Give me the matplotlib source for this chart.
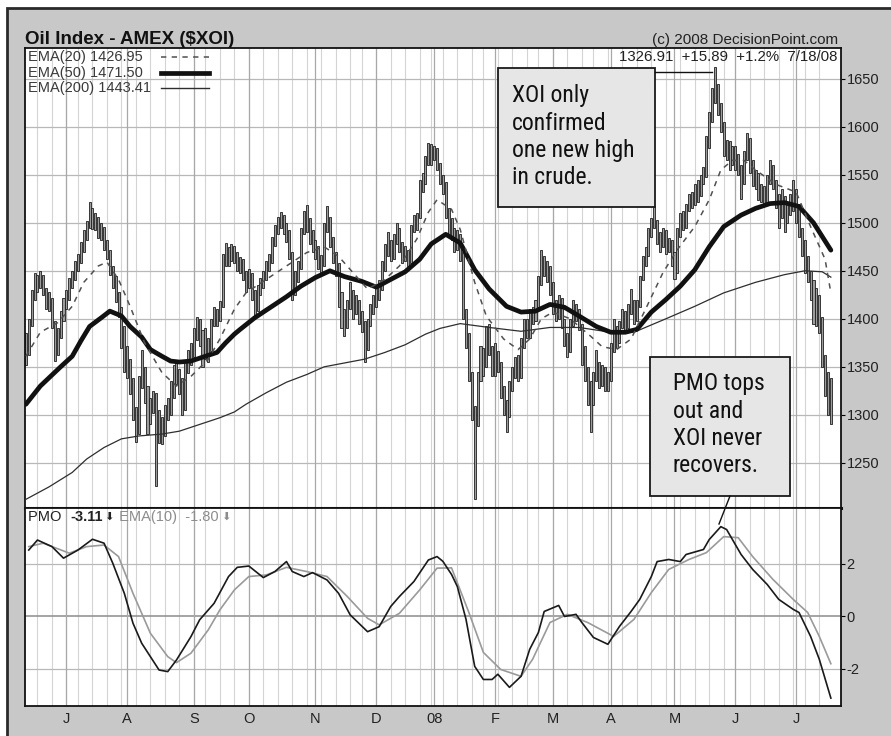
import numpy as np
import pandas as pd
import matplotlib
matplotlib.use("Agg")
import matplotlib.pyplot as plt
from matplotlib import font_manager
from matplotlib.patches import Rectangle
from matplotlib.lines import Line2D

W, H = 891, 736

holidays = ["2007-07-04", "2007-09-03", "2007-11-22", "2007-12-25", "2008-01-01",
            "2008-01-21", "2008-02-18", "2008-03-21", "2008-05-26", "2008-07-04"]
dates = pd.bdate_range("2007-06-12", "2008-07-18", freq="C", holidays=holidays)

# daily bars
closes = [
    1368, 1395, 1425, 1440, 1436, 1445, 1430, 1415, 1420, 1395, 1365, 1385, 1402, 1418,
    1425, 1438, 1445, 1455, 1462, 1475, 1488, 1498, 1512, 1500, 1505, 1490, 1495, 1480, 1470, 1452, 1440, 1425, 1410, 1378, 1365,
    1345, 1330, 1300, 1285, 1330, 1345, 1320, 1295, 1310, 1320, 1300, 1285, 1280, 1300, 1305, 1325, 1340, 1345, 1335, 1305, 1350, 1358, 1365,
    1385, 1395, 1380, 1362, 1375, 1368, 1395, 1405, 1400, 1412, 1460, 1470, 1465, 1472, 1468, 1455, 1460, 1445, 1440,
    1445, 1425, 1412, 1430, 1438, 1445, 1455, 1462, 1480, 1492, 1500, 1505, 1495, 1490, 1470, 1432, 1440, 1455, 1490, 1505, 1500, 1485, 1478,
    1470, 1462, 1458, 1495, 1505, 1480, 1462, 1455, 1420, 1400, 1392, 1415, 1425, 1410, 1418, 1402, 1395, 1372, 1395, 1410, 1420,
    1425, 1435, 1455, 1470, 1478, 1465, 1482, 1490, 1475, 1465, 1470, 1460, 1495, 1500, 1505, 1540, 1545, 1565, 1575, 1570,
    1575, 1560, 1545, 1540, 1510, 1500, 1490, 1478, 1485, 1470, 1405, 1380, 1340, 1310, 1290, 1340, 1365, 1355, 1380, 1370, 1345,
    1362, 1350, 1325, 1310, 1300, 1330, 1345, 1355, 1340, 1375, 1395, 1385, 1405, 1400, 1415, 1440, 1460, 1450, 1455, 1430,
    1415, 1405, 1420, 1395, 1380, 1370, 1395, 1410, 1405, 1395, 1360, 1345, 1330, 1315, 1340, 1350, 1335, 1345, 1330, 1335,
    1370, 1385, 1378, 1395, 1405, 1392, 1410, 1418, 1400, 1415, 1440, 1460, 1470, 1490, 1500, 1505, 1485, 1478, 1490, 1475, 1480, 1465,
    1450, 1490, 1505, 1500, 1515, 1525, 1520, 1535, 1530, 1545, 1550, 1580, 1610, 1630, 1640, 1620, 1600, 1575, 1580, 1565, 1570,
    1565, 1555, 1545, 1570, 1580, 1560, 1545, 1550, 1530, 1535, 1525, 1545, 1555, 1540, 1520, 1510, 1525, 1505, 1515, 1520, 1530,
    1515, 1490, 1475, 1460, 1445, 1430, 1415, 1420, 1395, 1360, 1330, 1311, 1327,
]
highs = [
    1385, 1400, 1430, 1448, 1446, 1450, 1446, 1432, 1428, 1422, 1398, 1390, 1408, 1422,
    1430, 1442, 1450, 1460, 1468, 1480, 1492, 1502, 1522, 1515, 1510, 1506, 1500, 1496, 1482, 1472, 1455, 1445, 1428, 1412, 1392,
    1372, 1358, 1338, 1308, 1340, 1368, 1350, 1330, 1318, 1325, 1323, 1305, 1298, 1310, 1318, 1335, 1352, 1354, 1348, 1338, 1356, 1368, 1375,
    1390, 1402, 1400, 1388, 1390, 1380, 1400, 1412, 1410, 1419, 1468, 1479, 1475, 1478, 1476, 1470, 1464, 1462, 1450,
    1452, 1448, 1430, 1435, 1442, 1450, 1460, 1468, 1485, 1498, 1506, 1511, 1508, 1500, 1492, 1470, 1450, 1460, 1495, 1512, 1519, 1505, 1492,
    1482, 1476, 1466, 1500, 1517, 1506, 1485, 1470, 1458, 1428, 1410, 1420, 1438, 1430, 1425, 1420, 1408, 1398, 1400, 1415, 1425,
    1432, 1440, 1460, 1478, 1490, 1482, 1488, 1500, 1495, 1480, 1476, 1472, 1498, 1508, 1510, 1545, 1552, 1570, 1583, 1582,
    1580, 1578, 1562, 1550, 1542, 1515, 1505, 1495, 1492, 1488, 1470, 1410, 1385, 1345, 1309, 1345, 1372, 1370, 1392, 1395, 1372,
    1375, 1366, 1355, 1330, 1315, 1335, 1350, 1360, 1362, 1380, 1400, 1400, 1410, 1412, 1420, 1445, 1472, 1465, 1460, 1455,
    1438, 1420, 1425, 1422, 1400, 1385, 1400, 1420, 1415, 1410, 1395, 1372, 1350, 1335, 1345, 1368, 1355, 1352, 1350, 1345,
    1375, 1400, 1392, 1398, 1410, 1408, 1415, 1431, 1420, 1420, 1445, 1465, 1475, 1495, 1505, 1517, 1503, 1490, 1495, 1492, 1484, 1482,
    1470, 1495, 1510, 1512, 1520, 1530, 1532, 1540, 1545, 1550, 1558, 1590, 1615, 1640, 1662, 1645, 1625, 1605, 1586, 1585, 1580,
    1580, 1572, 1560, 1575, 1594, 1588, 1565, 1555, 1552, 1540, 1538, 1550, 1565, 1560, 1545, 1530, 1535, 1528, 1522, 1530, 1545,
    1535, 1520, 1495, 1482, 1465, 1450, 1440, 1432, 1425, 1402, 1362, 1345, 1338,
]
lows = [
    1352, 1362, 1392, 1420, 1428, 1432, 1425, 1410, 1408, 1390, 1356, 1362, 1380, 1398,
    1410, 1420, 1432, 1440, 1450, 1458, 1470, 1482, 1495, 1494, 1492, 1484, 1482, 1472, 1462, 1446, 1432, 1418, 1402, 1370, 1345,
    1338, 1322, 1295, 1272, 1280, 1328, 1312, 1280, 1290, 1302, 1226, 1271, 1270, 1278, 1295, 1300, 1318, 1332, 1322, 1300, 1305, 1344, 1352,
    1360, 1378, 1372, 1350, 1358, 1355, 1366, 1392, 1392, 1398, 1412, 1455, 1455, 1460, 1458, 1450, 1448, 1440, 1428,
    1432, 1420, 1402, 1408, 1425, 1432, 1440, 1450, 1458, 1476, 1488, 1495, 1488, 1480, 1462, 1420, 1425, 1438, 1452, 1488, 1490, 1478, 1470,
    1462, 1452, 1448, 1455, 1490, 1475, 1458, 1445, 1412, 1390, 1382, 1390, 1410, 1400, 1405, 1395, 1386, 1355, 1368, 1392, 1405,
    1412, 1420, 1430, 1450, 1465, 1460, 1462, 1478, 1470, 1458, 1460, 1455, 1458, 1490, 1492, 1505, 1532, 1540, 1560, 1560,
    1565, 1555, 1540, 1530, 1505, 1486, 1482, 1470, 1472, 1460, 1400, 1370, 1335, 1295, 1212, 1288, 1335, 1340, 1350, 1362, 1340,
    1340, 1345, 1318, 1300, 1282, 1298, 1325, 1338, 1335, 1338, 1370, 1380, 1380, 1395, 1398, 1412, 1435, 1445, 1438, 1425,
    1405, 1398, 1400, 1390, 1372, 1360, 1365, 1392, 1398, 1388, 1352, 1335, 1310, 1282, 1310, 1335, 1328, 1330, 1325, 1325,
    1335, 1365, 1370, 1375, 1390, 1385, 1390, 1405, 1395, 1398, 1412, 1440, 1455, 1465, 1485, 1495, 1478, 1470, 1475, 1468, 1470, 1455,
    1441, 1448, 1485, 1492, 1495, 1512, 1515, 1518, 1522, 1528, 1540, 1548, 1578, 1605, 1625, 1612, 1595, 1570, 1565, 1555, 1560,
    1555, 1550, 1525, 1540, 1565, 1552, 1538, 1535, 1524, 1522, 1518, 1520, 1540, 1535, 1515, 1495, 1505, 1490, 1500, 1508, 1512,
    1500, 1485, 1465, 1448, 1438, 1420, 1395, 1392, 1385, 1350, 1320, 1300, 1290,
]

# indicator lines as (bar number, value)
ema20 = [(0, 1361), (5, 1386), (11, 1396), (16, 1413), (20, 1438), (25, 1455), (28, 1459), (32, 1441),
         (36, 1413), (41, 1375), (47, 1344), (52, 1330), (57, 1340), (63, 1358), (67, 1379), (72, 1410),
         (76, 1427), (83, 1441), (90, 1455), (97, 1469), (103, 1475), (108, 1465), (113, 1448), (118, 1431),
         (124, 1441), (129, 1455), (135, 1483), (139, 1511), (142, 1524), (147, 1514), (150, 1493), (155, 1438),
         (159, 1403), (165, 1379), (170, 1368), (174, 1379), (178, 1400), (182, 1407), (188, 1400), (195, 1382),
         (199, 1371), (204, 1368), (209, 1379), (214, 1410), (220, 1448), (225, 1472), (231, 1496), (236, 1524),
         (240, 1555), (244, 1565), (248, 1565), (252, 1555), (259, 1540), (266, 1532), (271, 1496), (276, 1462),
         (278, 1427)]
ema50 = [(0, 1311), (5, 1330), (12, 1350), (16, 1361), (19, 1377), (22, 1392), (26, 1401), (29, 1408),
         (33, 1403), (36, 1392), (40, 1381), (43, 1368), (47, 1361), (50, 1356), (53, 1355), (57, 1356),
         (60, 1359), (66, 1365), (69, 1375), (72, 1384), (74, 1389), (79, 1401), (85, 1413), (90, 1423),
         (95, 1434), (100, 1443), (105, 1450), (110, 1444), (116, 1439), (121, 1433), (126, 1441), (131, 1449),
         (136, 1462), (140, 1478), (145, 1488), (150, 1479), (155, 1451), (160, 1431), (166, 1413), (171, 1407),
         (176, 1408), (181, 1415), (186, 1412), (191, 1403), (197, 1392), (202, 1386), (207, 1386), (211, 1389),
         (216, 1407), (221, 1420), (226, 1434), (231, 1451), (236, 1475), (241, 1496), (247, 1508), (252, 1515),
         (257, 1520), (262, 1521), (267, 1517), (272, 1500), (278, 1471.5)]
ema200 = [(0, 1212), (8, 1225), (16, 1240), (21, 1254), (27, 1266), (33, 1275), (39, 1278), (47, 1280),
          (53, 1283), (60, 1290), (67, 1297), (72, 1303), (76, 1311), (83, 1323), (90, 1334), (97, 1342),
          (103, 1350), (110, 1354), (117, 1358), (124, 1365), (131, 1373), (138, 1384), (143, 1390), (150, 1395),
          (160, 1391), (171, 1387), (181, 1391), (191, 1391), (202, 1386), (210, 1386), (221, 1400), (231, 1413),
          (241, 1427), (252, 1438), (262, 1446), (269, 1450), (275, 1449), (278, 1443.4)]
pmo = [(1, 2.53), (4, 2.91), (9, 2.66), (13, 2.22), (18, 2.53), (23, 2.94), (27, 2.79), (30, 2.03),
       (34, 0.88), (37, -0.26), (40, -1.02), (43, -1.53), (46, -2.04), (49, -2.10), (52, -1.66), (57, -0.77),
       (60, -0.13), (65, 0.50), (70, 1.52), (73, 1.87), (77, 1.92), (82, 1.48), (86, 1.71), (90, 2.09),
       (92, 1.71), (96, 1.52), (99, 1.67), (104, 1.39), (108, 0.88), (112, 0.06), (118, -0.58), (122, -0.39),
       (126, 0.38), (129, 0.76), (134, 1.33), (139, 2.15), (142, 2.28), (144, 2.1), (147, 1.6), (149, 1.14),
       (152, -0.11), (155, -1.90), (158, -2.40), (161, -2.40), (163, -2.2), (167, -2.70), (171, -2.28),
       (174, -1.25), (177, -0.61), (179, 0.19), (184, 0.42), (186, 0.0), (190, 0.08), (192, -0.23),
       (196, -0.80), (201, -1.06), (205, -0.38), (209, 0.19), (212, 0.65), (216, 1.52), (218, 2.09),
       (222, 2.17), (226, 2.09), (228, 2.36), (234, 2.55), (236, 2.93), (240, 3.42), (242, 3.31), (247, 2.36),
       (251, 1.79), (256, 1.22), (260, 0.65), (265, 0.27), (267, 0.15), (271, -0.76), (274, -1.63), (278, -3.11)]
pmo_signal = [(1, 2.66), (6, 2.79), (15, 2.41), (21, 2.66), (27, 2.72), (32, 2.28), (37, 0.88), (43, -0.64),
              (49, -1.53), (52, -1.76), (57, -1.40), (63, -0.51), (67, 0.25), (72, 1.01), (77, 1.52), (83, 1.58),
              (90, 1.87), (97, 1.71), (104, 1.52), (111, 0.76), (118, -0.07), (122, -0.32), (129, 0.12),
              (136, 1.01), (142, 1.84), (147, 1.85), (153, 0.15), (158, -1.37), (164, -2.02), (171, -2.28),
              (175, -1.63), (181, -0.23), (187, 0.08), (194, -0.23), (203, -0.76), (210, -0.11), (216, 0.91),
              (222, 1.79), (229, 2.17), (235, 2.43), (241, 3.04), (246, 3.0), (251, 2.28), (258, 1.41),
              (265, 0.65), (270, 0.15), (274, -0.76), (278, -1.80)]

price_ticks = [1250, 1300, 1350, 1400, 1450, 1500, 1550, 1600, 1650]
pmo_ticks = [-2, 0, 2]

n = len(dates)
assert len(closes) == n and len(highs) == n and len(lows) == n
idx = np.arange(n)
highs = np.array(highs)
lows = np.array(lows)

plt.rcParams['font.family'] = ['Liberation Sans', 'DejaVu Sans']
plt.rcParams['axes.unicode_minus'] = False

names = {f.name for f in font_manager.fontManager.ttflist}
callout_font, callout_size = 'Liberation Sans', 15
for cand in ['Liberation Sans Narrow', 'Roboto Condensed', 'Open Sans Condensed']:
    if cand in names:
        callout_font, callout_size = cand, 17
        break


def fx(px):
    return px / W


def fy(py):
    return 1 - py / H


fig = plt.figure(figsize=(W / 100, H / 100), dpi=100)
fig.add_artist(Rectangle((fx(7), -0.01), 1.02 - fx(7), fy(8) + 0.01, transform=fig.transFigure,
                         facecolor='#c8c8c8', edgecolor='#2a2a2a', lw=2, zorder=-10))

ax = fig.add_axes([fx(25), fy(508), fx(841) - fx(25), fy(48) - fy(508)])
ax2 = fig.add_axes([fx(25), fy(706), fx(841) - fx(25), fy(508) - fy(706)], sharex=ax)

iso_week = dates.isocalendar().week.values
week_starts = [i for i in range(1, n) if iso_week[i] != iso_week[i - 1]]
month_starts = [i for i in range(1, n) if dates[i].month != dates[i - 1].month]
month_labels = [dates[i].strftime('%y') if dates[i].month == 1 else dates[i].strftime('%b')[0]
                for i in month_starts]

for a in (ax, ax2):
    for i in week_starts:
        a.axvline(i, color='#d4d4d4', lw=0.8, zorder=0.5)
    for i in month_starts:
        a.axvline(i, color='#a8a8a8', lw=0.9, zorder=0.6)
    for s in a.spines.values():
        s.set_color('#111111')
        s.set_linewidth(1.3)

for v in price_ticks:
    ax.axhline(v, color='#b8b8b8', lw=0.9, zorder=0.5)
for v in pmo_ticks:
    ax2.axhline(v, color='#8c8c8c' if v == 0 else '#b8b8b8', lw=1.1 if v == 0 else 0.9, zorder=0.5)

# price bars
ax.bar(idx, highs - lows, bottom=lows, width=0.7, color='#9c9c9c', edgecolor='#1e1e1e',
       linewidth=0.6, zorder=2)

x, y = zip(*ema200)
ax.plot(x, y, color='#2e2e2e', lw=0.9, zorder=3)
x, y = zip(*ema50)
ax.plot(x, y, color='#111111', lw=3.4, zorder=3, solid_capstyle='round')
x, y = zip(*ema20)
ax.plot(x, y, color='#505050', lw=1.1, dashes=(3.5, 3.5), zorder=3)

x, y = zip(*pmo_signal)
ax2.plot(x, y, color='#9a9a9a', lw=1.2, zorder=3)
x, y = zip(*pmo)
ax2.plot(x, y, color='#1a1a1a', lw=1.2, zorder=4)

ax.set_xlim(-0.3, 281.5)
ax.set_ylim(1203, 1682)
ax2.set_ylim(-3.41, 4.13)

ax.yaxis.tick_right()
ax.set_yticks(price_ticks)
ax.tick_params(axis='y', direction='out', length=3, pad=1, labelsize=10.5, labelcolor='#222222')
ax.tick_params(axis='x', bottom=False, labelbottom=False)
ax2.yaxis.tick_right()
ax2.set_yticks(pmo_ticks)
ax2.tick_params(axis='y', direction='out', length=3, pad=1, labelsize=10.5, labelcolor='#222222')
ax2.set_xticks(month_starts)
ax2.set_xticklabels(month_labels)
ax2.tick_params(axis='x', length=0, pad=4, labelsize=10.5, labelcolor='#222222')
ax.spines['bottom'].set_linewidth(2.2)

# header texts
fig.text(fx(25), fy(39), 'Oil Index - AMEX ($XOI)', ha='left', va='center',
         fontsize=13.5, weight='bold', color='#111111')
fig.text(fx(838), fy(40), '(c) 2008 DecisionPoint.com', ha='right', va='center',
         fontsize=11, color='#222222')
ax.text(0.996, 0.981, '1326.91  +15.89  +1.2%  7/18/08', transform=ax.transAxes,
        ha='right', va='center', fontsize=10.8, color='#222222', zorder=6)

legend_rows = [('EMA(20) 1426.95', dict(color='#505050', lw=1.1, dashes=(3.5, 3.5))),
               ('EMA(50) 1471.50', dict(color='#111111', lw=3.4)),
               ('EMA(200) 1443.41', dict(color='#2e2e2e', lw=1.0))]
for k, (label, style) in enumerate(legend_rows):
    yy = 1 - (57 + 15.5 * k - 48) / 460
    ax.text(0.004, yy, label, transform=ax.transAxes, ha='left', va='center',
            fontsize=10.5, color='#3a3a3a', zorder=6)
    ax.plot([0.167, 0.226], [yy, yy], transform=ax.transAxes, zorder=6, **style)

t1 = ax2.text(0.004, 0.955, 'PMO  ', transform=ax2.transAxes, ha='left', va='center',
              fontsize=10.5, color='#222222')
t2 = ax2.annotate('-3.11', xy=(1, 0.5), xycoords=t1, ha='left', va='center',
                  fontsize=10.5, weight='bold', color='#222222')
t3 = ax2.annotate(' \u2b07', xy=(1, 0.5), xycoords=t2, ha='left', va='center',
                  fontsize=8, color='#222222')
t4 = ax2.annotate(' EMA(10)  -1.80', xy=(1, 0.5), xycoords=t3, ha='left', va='center',
                  fontsize=10.5, color='#8c8c8c')
ax2.annotate(' \u2b07', xy=(1, 0.5), xycoords=t4, ha='left', va='center',
             fontsize=8, color='#8c8c8c')

# callouts
fig.add_artist(Rectangle((fx(498), fy(207)), fx(655) - fx(498), fy(68) - fy(207),
                         transform=fig.transFigure, facecolor='#e6e6e6', edgecolor='#1a1a1a',
                         lw=1.3, zorder=5))
fig.add_artist(Line2D([fx(655), fx(712)], [fy(72), fy(72)], transform=fig.transFigure,
                      color='#111111', lw=1.0, zorder=5))
fig.text(fx(512), fy(84), 'XOI only\nconfirmed\none new high\nin crude.', ha='left', va='top',
         fontsize=callout_size, family=callout_font, linespacing=1.25, color='#111111', zorder=6)

fig.add_artist(Rectangle((fx(650), fy(496)), fx(790) - fx(650), fy(357) - fy(496),
                         transform=fig.transFigure, facecolor='#e6e6e6', edgecolor='#1a1a1a',
                         lw=1.3, zorder=5))
fig.add_artist(Line2D([fx(730), fx(719)], [fy(496), fy(524)], transform=fig.transFigure,
                      color='#111111', lw=1.0, zorder=5))
fig.text(fx(673), fy(372), 'PMO tops\nout and\nXOI never\nrecovers.', ha='left', va='top',
         fontsize=callout_size, family=callout_font, linespacing=1.25, color='#111111', zorder=6)

fig.savefig('out.png', dpi=100)
